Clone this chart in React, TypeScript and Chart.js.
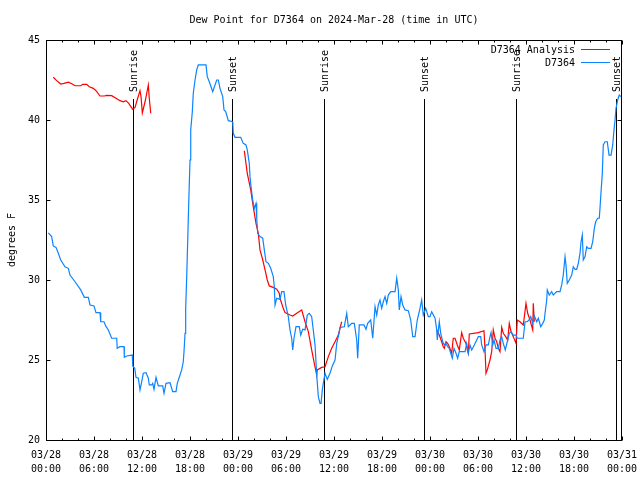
import React, { useEffect, useRef } from "react";
import { Chart, registerables } from "chart.js";

Chart.register(...registerables);

const TITLE = "Dew Point for D7364 on 2024-Mar-28 (time in UTC)";
const Y_LABEL = "degrees F";
const FONT_FAMILY = "'DejaVu Sans Mono', 'Liberation Mono', monospace";

const X_MIN = 0;
const X_MAX = 72;
const X_MINOR_STEP = 2;
const X_MAJOR_STEP = 6;
const Y_MIN = 20;
const Y_MAX = 45;
const Y_STEP = 5;

const X_TICK_DATES = ["03/28", "03/28", "03/28", "03/28", "03/29", "03/29", "03/29", "03/29", "03/30", "03/30", "03/30", "03/30", "03/31"];
const X_TICK_TIMES = ["00:00", "06:00", "12:00", "18:00", "00:00", "06:00", "12:00", "18:00", "00:00", "06:00", "12:00", "18:00", "00:00"];

const EVENT_HOURS = [10.9, 23.3, 34.8, 47.2, 58.8, 71.2];
const EVENT_LABELS = ["Sunrise", "Sunset", "Sunrise", "Sunset", "Sunrise", "Sunset"];

const ANALYSIS_LABEL = "D7364 Analysis";
const OBS_LABEL = "D7364";
const ANALYSIS_COLOR = "#ff0000";
const OBS_COLOR = "#0a84ff";

// hours since 03/28 00:00 UTC
const OBS_HOURS = [
  0.29, 0.71, 0.91, 1.25, 1.54, 1.84, 2.38, 2.79, 3.0, 3.63,
  4.34, 4.79, 5.29, 5.5, 6.0, 6.25, 6.75, 6.84, 7.25, 7.46,
  7.79, 8.21, 8.84, 8.9, 9.25, 9.75, 9.79, 10.09, 10.79, 10.84,
  11.09, 11.25, 11.54, 11.75, 11.96, 12.16, 12.5, 12.79, 12.91, 13.21,
  13.34, 13.5, 13.75, 14.04, 14.59, 14.75, 15.0, 15.5, 15.84, 16.25,
  16.41, 16.66, 16.96, 17.16, 17.25, 17.38, 17.46, 17.59, 17.71, 17.84,
  18.0, 18.09, 18.29, 18.41, 18.63, 18.84, 19.04, 20.0, 20.16, 20.41,
  20.84, 21.34, 21.54, 21.75, 22.09, 22.25, 22.46, 22.79, 23.34, 23.41,
  23.63, 24.34, 24.66, 25.0, 25.16, 25.41, 25.5, 25.63, 25.84, 26.04,
  26.25, 26.34, 26.46, 26.75, 27.09, 27.29, 27.5, 27.79, 28.09, 28.41,
  28.54, 28.63, 28.84, 29.25, 29.46, 29.75, 29.96, 30.29, 30.5, 30.71,
  30.84, 31.0, 31.25, 31.66, 31.84, 32.09, 32.38, 32.66, 32.91, 33.21,
  33.41, 33.63, 33.84, 34.04, 34.25, 34.38, 34.54, 34.66, 34.88, 35.16,
  35.5, 35.79, 36.13, 36.34, 36.63, 36.75, 37.29, 37.59, 37.79, 38.21,
  38.54, 38.84, 38.96, 39.16, 39.75, 40.0, 40.21, 40.59, 40.84, 41.13,
  41.34, 41.54, 41.75, 41.96, 42.16, 42.38, 42.59, 42.79, 43.09, 43.63,
  43.84, 44.04, 44.16, 44.38, 44.59, 44.88, 45.29, 45.59, 45.84, 46.13,
  46.41, 46.75, 46.96, 47.16, 47.46, 47.79, 48.0, 48.21, 48.63, 48.84,
  48.91, 49.16, 49.34, 49.59, 49.79, 50.0, 50.21, 50.41, 50.59, 50.79,
  51.0, 51.25, 51.46, 51.66, 52.38, 52.59, 52.79, 53.0, 53.21, 53.54,
  53.84, 54.04, 54.34, 54.46, 54.75, 55.0, 55.29, 55.5, 55.63, 55.84,
  56.0, 56.25, 56.54, 56.75, 56.96, 57.16, 57.41, 57.66, 57.91, 58.13,
  58.41, 58.75, 58.91, 59.66, 59.88, 60.16, 60.38, 60.59, 60.84, 61.0,
  61.34, 61.54, 61.84, 62.09, 62.29, 62.38, 62.59, 62.66, 62.91, 63.21,
  63.41, 63.84, 64.25, 64.46, 64.66, 64.88, 65.0, 65.16, 65.41, 65.71,
  65.91, 66.13, 66.34, 66.54, 66.75, 66.88, 67.04, 67.16, 67.38, 67.59,
  67.79, 68.13, 68.34, 68.54, 68.71, 68.96, 69.16, 69.25, 69.38, 69.54,
  69.66, 69.88, 70.16, 70.38, 70.63, 70.84, 71.0, 71.13, 71.25, 71.46,
  71.66, 71.84,
];

const OBS_VALUES = [
  32.94, 32.71, 32.13, 32.04, 31.67, 31.25, 30.83, 30.73, 30.31, 29.89,
  29.38, 28.92, 28.92, 28.44, 28.38, 27.96, 27.96, 27.39, 27.39, 27.13,
  26.88, 26.36, 26.36, 25.73, 25.83, 25.83, 25.17, 25.25, 25.31, 24.63,
  24.48, 23.92, 23.86, 23.13, 23.64, 24.17, 24.21, 23.86, 23.44, 23.44,
  23.54, 23.17, 23.92, 23.38, 23.38, 22.92, 23.54, 23.58, 23.02, 23.02,
  23.54, 23.92, 24.38, 24.89, 25.52, 26.67, 28.23, 30.21, 32.39, 34.79,
  37.5, 39.38, 40.52, 41.67, 42.5, 43.13, 43.44, 43.44, 42.71, 42.39,
  41.77, 42.5, 42.5, 41.98, 41.46, 40.63, 40.52, 39.96, 39.89, 39.17,
  38.92, 38.92, 38.54, 38.44, 38.13, 37.29, 36.46, 35.83, 35.0, 34.48,
  34.79, 33.86, 32.92, 32.71, 32.61, 31.88, 31.14, 31.04, 30.73, 30.21,
  29.58, 28.44, 28.86, 28.79, 29.27, 29.27, 28.44, 27.71, 26.88, 26.36,
  25.63, 26.36, 27.08, 27.08, 26.56, 26.92, 26.88, 27.81, 27.92, 27.71,
  26.88, 25.94, 24.06, 22.71, 22.29, 22.29, 23.13, 23.54, 24.17, 23.79,
  24.17, 24.63, 25.0, 26.04, 26.67, 27.04, 27.08, 27.92, 27.08, 27.29,
  27.29, 26.25, 25.11, 27.19, 27.19, 26.92, 27.29, 27.5, 26.36, 28.33,
  27.81, 28.44, 28.75, 28.23, 28.64, 28.96, 28.54, 29.06, 29.27, 29.27,
  30.11, 29.38, 28.13, 28.96, 28.44, 28.13, 28.08, 27.5, 26.46, 26.46,
  27.5, 28.23, 28.75, 27.81, 28.23, 27.71, 27.71, 28.02, 27.61, 26.88,
  26.25, 27.39, 26.67, 26.14, 25.94, 26.04, 25.83, 25.73, 25.42, 25.11,
  25.73, 25.42, 25.11, 25.52, 25.52, 26.04, 25.42, 25.94, 25.63, 25.94,
  26.25, 26.46, 26.46, 25.94, 25.52, 25.94, 25.94, 26.46, 26.71, 25.94,
  26.25, 25.73, 25.73, 26.25, 26.46, 26.04, 25.63, 26.14, 26.67, 26.77,
  26.56, 26.56, 26.36, 26.36, 27.39, 27.39, 27.5, 27.71, 27.29, 27.81,
  27.39, 27.61, 27.08, 27.29, 27.5, 27.92, 28.75, 29.38, 29.06, 29.27,
  29.06, 29.27, 29.27, 29.69, 30.31, 31.46, 30.94, 29.79, 30.0, 30.31,
  30.83, 30.67, 30.67, 31.04, 31.67, 32.39, 32.81, 31.25, 31.46, 32.08,
  31.98, 31.98, 32.39, 33.23, 33.64, 33.86, 33.86, 34.48, 35.52, 36.67,
  38.44, 38.64, 38.64, 37.81, 37.81, 38.44, 39.38, 40.0, 40.73, 41.25,
  41.56, 41.46,
];

// null values break the analysis line into its separate runs
const ANALYSIS_HOURS = [
  0.91, 1.34, 1.84, 2.25, 2.79, 3.34, 3.63, 4.34, 4.59, 5.09,
  5.41, 5.91, 6.25, 6.75, 7.29, 7.59, 8.21, 8.75, 9.25, 9.66,
  10.0, 10.34, 10.84, 11.13, 11.46, 11.75, 11.88, 12.04, 12.38, 12.59,
  12.79, 12.91, 13.09,
  13.2,
  24.79, 25.16, 25.59, 25.84, 26.25, 26.54, 26.75, 27.04, 27.38, 27.66,
  27.91, 28.41, 28.84, 29.16, 29.25, 29.66, 29.88, 30.5, 30.84, 31.34,
  31.96, 32.38, 32.79, 33.21, 33.5, 33.84, 33.91, 34.46, 34.88, 35.29,
  35.71, 36.13, 36.54, 36.96,
  37.0,
  48.84, 49.16, 49.46, 49.66, 49.79, 50.0, 50.21, 50.41, 50.71, 50.91,
  51.13, 51.41, 51.66, 51.96, 52.16, 52.5, 52.66, 52.79, 52.91, 54.04,
  54.75, 54.88, 55.0, 55.16, 55.5, 55.71, 55.91, 56.13, 56.34, 56.54,
  56.75, 56.96, 57.16, 57.46, 57.71, 57.91, 58.13, 58.41, 58.75, 58.91,
  59.25, 59.66, 60.0, 60.21, 60.5, 60.84, 60.91, 61.04,
];

const ANALYSIS_VALUES = [
  42.67, 42.46, 42.25, 42.29, 42.36, 42.23, 42.14, 42.14, 42.23, 42.23,
  42.08, 41.98, 41.83, 41.5, 41.5, 41.54, 41.52, 41.36, 41.21, 41.14,
  41.21, 41.04, 40.67, 40.79, 41.36, 41.83, 41.46, 40.44, 41.14, 41.67,
  42.19, 41.36, 40.42,
  null,
  38.08, 36.67, 35.63, 34.79, 33.54, 32.92, 31.88, 31.36, 30.63, 30.0,
  29.63, 29.54, 29.42, 29.17, 28.86, 28.23, 27.96, 27.81, 27.75, 27.92,
  28.13, 27.39, 26.77, 25.63, 24.89, 24.06, 24.38, 24.54, 24.58, 25.21,
  25.73, 26.14, 26.56, 27.39,
  null,
  26.88, 26.56, 26.14, 25.83, 25.73, 26.14, 26.04, 25.83, 25.42, 26.36,
  26.36, 25.94, 25.63, 26.71, 26.36, 26.04, 25.63, 25.42, 26.63, 26.71,
  26.83, 25.63, 24.17, 24.38, 25.0, 25.52, 26.88, 26.36, 26.14, 25.73,
  25.52, 27.04, 26.67, 26.46, 26.25, 27.29, 26.77, 26.46, 26.04, 27.5,
  27.39, 27.19, 28.54, 27.92, 27.5, 26.88, 28.54, 27.39,
];

function toPoints(hours: number[], values: (number | null)[]) {
  const n = Math.min(hours.length, values.length);
  const pts: { x: number; y: number | null }[] = [];
  for (let i = 0; i < n; i++) pts.push({ x: hours[i], y: values[i] });
  return pts;
}

const crisp = (v: number) => Math.round(v) + 0.5;

const eventPlugin = {
  id: "sunEvents",
  beforeDatasetsDraw(chart: any) {
    const { ctx, chartArea: a, scales } = chart;
    const xs = scales.x;
    ctx.save();
    ctx.strokeStyle = "#000";
    ctx.lineWidth = 1;
    ctx.fillStyle = "#000";
    ctx.font = `10px ${FONT_FAMILY}`;
    for (let i = 0; i < EVENT_HOURS.length; i++) {
      const px = crisp(xs.getPixelForValue(EVENT_HOURS[i]));
      ctx.beginPath();
      ctx.moveTo(px, a.top + 59);
      ctx.lineTo(px, a.bottom);
      ctx.stroke();
      ctx.save();
      ctx.translate(px + 1, a.top + 52);
      ctx.rotate(-Math.PI / 2);
      ctx.textAlign = "left";
      ctx.textBaseline = "middle";
      ctx.fillText(EVENT_LABELS[i], 0, 0);
      ctx.restore();
    }
    ctx.restore();
  },
};

const framePlugin = {
  id: "gnuFrame",
  afterDatasetsDraw(chart: any) {
    const { ctx, chartArea: a, scales } = chart;
    const xs = scales.x;
    const ys = scales.y;
    const L = crisp(a.left);
    const R = Math.round(a.right) - 0.5;
    const T = crisp(a.top);
    const B = crisp(a.bottom);
    ctx.save();
    ctx.strokeStyle = "#000";
    ctx.lineWidth = 1;
    ctx.strokeRect(L, T, R - L, B - T);
    ctx.beginPath();
    for (let h = X_MIN; h <= X_MAX; h += X_MINOR_STEP) {
      const px = crisp(xs.getPixelForValue(h));
      const len = h % X_MAJOR_STEP === 0 ? 4 : 2;
      ctx.moveTo(px, B);
      ctx.lineTo(px, B - len);
      ctx.moveTo(px, T);
      ctx.lineTo(px, T + len);
    }
    for (let v = Y_MIN; v <= Y_MAX; v += Y_STEP) {
      const py = crisp(ys.getPixelForValue(v));
      ctx.moveTo(L, py);
      ctx.lineTo(L + 4, py);
      ctx.moveTo(R, py);
      ctx.lineTo(R - 4, py);
    }
    ctx.stroke();
    ctx.restore();
  },
};

const legendPlugin = {
  id: "gnuLegend",
  afterDraw(chart: any) {
    const { ctx, chartArea: a } = chart;
    ctx.save();
    ctx.font = `10px ${FONT_FAMILY}`;
    ctx.fillStyle = "#000";
    ctx.textAlign = "right";
    ctx.textBaseline = "middle";
    ctx.lineWidth = 1;
    chart.data.datasets.forEach((ds: any, i: number) => {
      const y = a.top + 10 + i * 13;
      ctx.fillText(ds.label, a.right - 47, y);
      ctx.strokeStyle = ds.borderColor;
      ctx.beginPath();
      ctx.moveTo(a.right - 41, crisp(y - 1));
      ctx.lineTo(a.right - 12, crisp(y - 1));
      ctx.stroke();
    });
    ctx.restore();
  },
};

export default function App() {
  const canvasRef = useRef<HTMLCanvasElement | null>(null);

  useEffect(() => {
    const canvas = canvasRef.current;
    if (!canvas) return;
    const font = { family: FONT_FAMILY, size: 10, weight: "normal" as const };
    const chart = new Chart(canvas, {
      type: "line",
      data: {
        datasets: [
          {
            label: ANALYSIS_LABEL,
            data: toPoints(ANALYSIS_HOURS, ANALYSIS_VALUES) as any,
            borderColor: ANALYSIS_COLOR,
            backgroundColor: ANALYSIS_COLOR,
            borderWidth: 1.2,
            pointRadius: 0,
            tension: 0,
            spanGaps: false,
            order: 1,
          },
          {
            label: OBS_LABEL,
            data: toPoints(OBS_HOURS, OBS_VALUES) as any,
            borderColor: OBS_COLOR,
            backgroundColor: OBS_COLOR,
            borderWidth: 1.2,
            pointRadius: 0,
            tension: 0,
            order: 0,
          },
        ],
      },
      options: {
        responsive: false,
        animation: false,
        events: [],
        layout: { padding: { left: 0, right: 18, top: 0, bottom: 0 } },
        plugins: {
          legend: { display: false },
          tooltip: { enabled: false },
          title: {
            display: true,
            text: TITLE,
            color: "#000",
            font,
            fullSize: false,
            padding: { top: 14, bottom: 14 },
          },
        },
        scales: {
          x: {
            type: "linear",
            min: X_MIN,
            max: X_MAX,
            afterFit: (s: any) => {
              s.height = 40;
              s.paddingLeft = 0;
              s.paddingRight = 0;
            },
            grid: { display: false, drawTicks: false },
            border: { display: false },
            ticks: {
              stepSize: X_MINOR_STEP,
              autoSkip: false,
              maxRotation: 0,
              minRotation: 0,
              padding: 8,
              color: "#000",
              font: { ...font, lineHeight: 1.45 },
              callback: (value: any) => {
                const v = Number(value);
                if (v % X_MAJOR_STEP !== 0) return "";
                const k = Math.round(v / X_MAJOR_STEP);
                return [X_TICK_DATES[k], X_TICK_TIMES[k]];
              },
            },
          },
          y: {
            min: Y_MIN,
            max: Y_MAX,
            afterFit: (s: any) => {
              s.width = 46;
              s.paddingTop = 0;
              s.paddingBottom = 0;
            },
            grid: { display: false, drawTicks: false },
            border: { display: false },
            ticks: { stepSize: Y_STEP, padding: 6, color: "#000", font },
            title: {
              display: true,
              text: Y_LABEL,
              color: "#000",
              font,
              padding: { top: 6, bottom: 0 },
            },
          },
        },
      },
      plugins: [eventPlugin, framePlugin, legendPlugin],
    });
    return () => chart.destroy();
  }, []);

  return (
    <div style={{ position: "fixed", left: 0, top: 0, width: 640, height: 480, background: "#fff" }}>
      <canvas ref={canvasRef} width={640} height={480} style={{ display: "block" }} />
    </div>
  );
}
